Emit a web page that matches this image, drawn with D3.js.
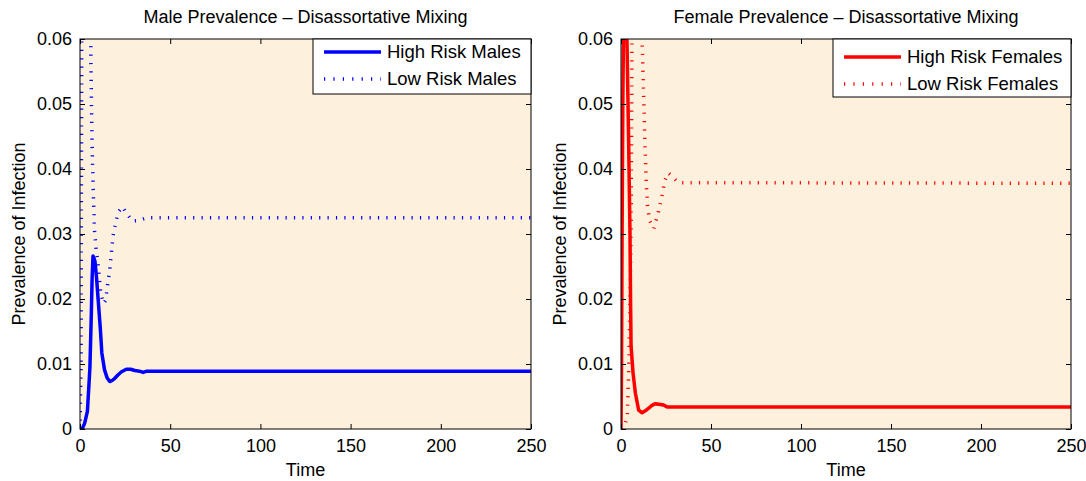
<!DOCTYPE html>
<html>
<head>
<meta charset="utf-8">
<script src="https://cdn.jsdelivr.net/npm/d3@7"></script>
<style>
  body { margin: 0; background: #fff; }
  svg { font-family: "Liberation Sans", Arial, Helvetica, sans-serif; }
</style>
</head>
<body>
<div id="chart"></div>
<script>
// values: [time, prevalence]
var maleHigh = [[0,0],[1.5,0.0002],[2.6,0.0009],[4.1,0.0027],[5,0.007],[5.5,0.0095],[5.9,0.0137],
  [6.3,0.018],[6.7,0.023],[7.2,0.0266],[7.7,0.0263],[8.3,0.0258],[9.1,0.0235],[10.2,0.0194],[11.3,0.0153],
  [12.1,0.0117],[13.6,0.0091],[15,0.0079],[16.5,0.0073],[18,0.0075],[19.3,0.0078],[21,0.0083],[23,0.0088],
  [25.7,0.0092],[28,0.0092],[30.4,0.009],[33,0.0089],[35,0.0087],[37,0.0089],[50,0.0089],[250,0.0089]];
var maleLow = [[0,0],[0.6,0.01],[0.8,0.04],[1,0.062],[1.5,0.072],[3,0.074],[4.5,0.07],[5.5,0.064],
  [5.9,0.06],[6.6,0.045],[7.4,0.036],[8.1,0.0304],[9,0.0275],[9.9,0.0256],[11.5,0.021],[13,0.0193],
  [14.2,0.0198],[15.2,0.022],[16.5,0.0245],[17.4,0.0271],[18.3,0.0297],[20,0.032],[21.3,0.0334],
  [23.5,0.0342],[26.3,0.033],[28.9,0.032],[33,0.0321],[37,0.0325],[250,0.0325]];
var femaleHigh = [[0,0],[0.3,0.01],[0.6,0.03],[1,0.05],[1.5,0.064],[2.5,0.07],[3,0.066],[3.3,0.06],
  [4.2,0.045],[5,0.03],[5.3,0.02],[5.6,0.0127],[6.7,0.0086],[8,0.0055],[9.8,0.0029],[11.7,0.0025],
  [13.5,0.0028],[15.4,0.0032],[17,0.0036],[19.1,0.0039],[23.7,0.0037],[25.6,0.0034],[250,0.0034]];
var femaleLow = [[0,0],[2,0.0005],[3.5,0.002],[4.4,0.01],[5,0.02],[5.6,0.03],[6.1,0.06],[7,0.068],
  [9,0.07],[11,0.065],[11.7,0.06],[12.5,0.052],[13.2,0.045],[14,0.038],[14.8,0.034],[16,0.032],
  [18.2,0.0308],[20.7,0.0333],[22.6,0.0356],[23.5,0.0369],[24.1,0.0381],[26.3,0.0394],[28.7,0.0388],
  [31.8,0.0379],[250,0.0378]];

var xTicks = [0, 50, 100, 150, 200, 250];
var yTicks = [0, 0.01, 0.02, 0.03, 0.04, 0.05, 0.06];
var yTickLabels = ["0", "0.01", "0.02", "0.03", "0.04", "0.05", "0.06"];

var titles = ["Male Prevalence \u2013 Disassortative Mixing", "Female Prevalence \u2013 Disassortative Mixing"];
var legendNames = [["High Risk Males", "Low Risk Males"], ["High Risk Females", "Low Risk Females"]];

var W = 1086, H = 481;
var svg = d3.select("#chart").append("svg")
  .attr("width", W).attr("height", H);

var panels = [
  {left: 80, right: 531, top: 39, bottom: 429, color: "#0000ff", high: maleHigh, low: maleLow,
   title: titles[0], names: legendNames[0], ylabX: 25,
   legend: {x0: 313, y0: 39, x1: 531, y1: 94, row1: 52, row2: 79}},
  {left: 621, right: 1071, top: 39, bottom: 429, color: "#ff0000", high: femaleHigh, low: femaleLow,
   title: titles[1], names: legendNames[1], ylabX: 566,
   legend: {x0: 833, y0: 39, x1: 1071, y1: 97, row1: 57, row2: 84}}
];

panels.forEach(function(p, i) {
  var x = d3.scaleLinear().domain([0, 250]).range([p.left, p.right]);
  var y = d3.scaleLinear().domain([0, 0.06]).range([p.bottom, p.top]);

  svg.append("rect")
    .attr("x", p.left).attr("y", p.top)
    .attr("width", p.right - p.left).attr("height", p.bottom - p.top)
    .attr("fill", "#fdf0dc");

  svg.append("clipPath").attr("id", "clip" + i)
    .append("rect")
    .attr("x", p.left).attr("y", p.top)
    .attr("width", p.right - p.left).attr("height", p.bottom - p.top);

  var line = d3.line()
    .x(function(d) { return x(d[0]); })
    .y(function(d) { return y(d[1]); });

  var g = svg.append("g").attr("clip-path", "url(#clip" + i + ")");
  g.append("path")
    .datum(p.low)
    .attr("fill", "none")
    .attr("stroke", p.color)
    .attr("stroke-width", 3.5)
    .attr("stroke-dasharray", "1.2,7.2")
    .attr("d", line);
  g.append("path")
    .datum(p.high)
    .attr("fill", "none")
    .attr("stroke", p.color)
    .attr("stroke-width", 3.5)
    .attr("stroke-linejoin", "round")
    .attr("d", line);

  // axes, ticks pointing inward
  var fmtY = function(d, k) { return yTickLabels[k]; };
  svg.append("g")
    .attr("transform", "translate(0," + p.bottom + ")")
    .call(d3.axisBottom(x).tickValues(xTicks).tickSizeInner(-5).tickSizeOuter(0).tickPadding(10));
  svg.append("g")
    .attr("transform", "translate(0," + p.top + ")")
    .call(d3.axisTop(x).tickValues(xTicks).tickSizeInner(-5).tickSizeOuter(0).tickFormat(""));
  svg.append("g")
    .attr("transform", "translate(" + p.left + ",0)")
    .call(d3.axisLeft(y).tickValues(yTicks).tickSizeInner(-5).tickSizeOuter(0).tickPadding(8).tickFormat(fmtY));
  svg.append("g")
    .attr("transform", "translate(" + p.right + ",0)")
    .call(d3.axisRight(y).tickValues(yTicks).tickSizeInner(-5).tickSizeOuter(0).tickFormat(""));

  svg.selectAll(".domain").remove();
  svg.selectAll(".tick text").attr("font-size", 18).attr("fill", "#000")
    .attr("font-family", "'Liberation Sans', Arial, Helvetica, sans-serif");
  svg.selectAll(".tick line").attr("stroke", "#000");

  svg.append("rect")
    .attr("x", p.left).attr("y", p.top)
    .attr("width", p.right - p.left).attr("height", p.bottom - p.top)
    .attr("fill", "none").attr("stroke", "#000").attr("stroke-width", 1);

  // title and axis labels
  svg.append("text")
    .attr("x", (p.left + p.right) / 2).attr("y", 23)
    .attr("text-anchor", "middle").attr("font-size", 18)
    .text(p.title);
  svg.append("text")
    .attr("x", (p.left + p.right) / 2).attr("y", 476)
    .attr("text-anchor", "middle").attr("font-size", 18)
    .text("Time");
  svg.append("text")
    .attr("transform", "translate(" + p.ylabX + "," + ((p.top + p.bottom) / 2) + ") rotate(-90)")
    .attr("text-anchor", "middle").attr("font-size", 18)
    .text("Prevalence of Infection");

  // legend
  var L = p.legend;
  svg.append("rect")
    .attr("x", L.x0).attr("y", L.y0)
    .attr("width", L.x1 - L.x0).attr("height", L.y1 - L.y0)
    .attr("fill", "#fff").attr("stroke", "#000").attr("stroke-width", 1);
  svg.append("line")
    .attr("x1", L.x0 + 11).attr("x2", L.x0 + 68)
    .attr("y1", L.row1).attr("y2", L.row1)
    .attr("stroke", p.color).attr("stroke-width", 3.5);
  svg.append("line")
    .attr("x1", L.x0 + 11).attr("x2", L.x0 + 68)
    .attr("y1", L.row2).attr("y2", L.row2)
    .attr("stroke", p.color).attr("stroke-width", 3.5)
    .attr("stroke-dasharray", "1.2,8.2");
  svg.append("text")
    .attr("x", L.x0 + 74).attr("y", L.row1)
    .attr("dy", "0.35em").attr("font-size", 18.5)
    .text(p.names[0]);
  svg.append("text")
    .attr("x", L.x0 + 74).attr("y", L.row2)
    .attr("dy", "0.35em").attr("font-size", 18.5)
    .text(p.names[1]);
});
</script>
</body>
</html>
